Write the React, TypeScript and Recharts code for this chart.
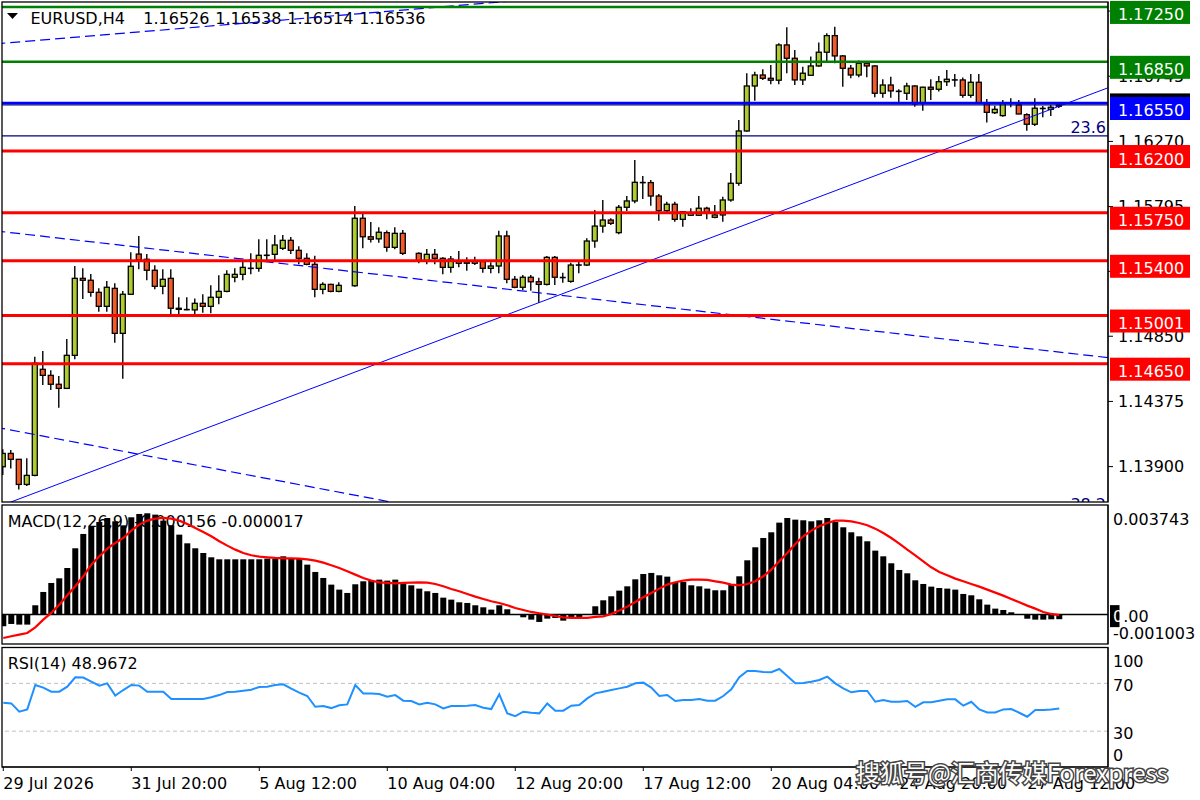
import React from "react";
import { Bar, ComposedChart, Line, ReferenceLine, XAxis, YAxis } from "recharts";

const FONT = "'DejaVu Sans', Verdana, sans-serif";
const BULL = "#AECC30";
const BEAR = "#F25A26";

// H4 bars, 29 Jul 04:00 .. 28 Aug 00:00 (null = no bar drawn)
const opens = [
  1.13899, 1.13996, 1.13953, 1.1377, 1.13836, 1.14609, 1.14565, 1.145, 1.1447, 1.14711,
  1.15272, 1.15258, 1.1517, 1.15068, 1.15199, 1.14871, 1.15156, 1.15449, 1.15411, 1.15331,
  1.15214, 1.15272, 1.15054, 1.15044, 1.15042, 1.1509, 1.15068, 1.15134, 1.15177, 1.1528,
  1.15301, 1.15345, 1.15345, 1.1544, 1.15447, 1.15491, 1.15549, 1.15476, 1.15418, 1.15374,
  1.15192, 1.15228, 1.15177, null, 1.15218, 1.1571, 1.15575, 1.1556, 1.15605, 1.15498,
  1.156, null, 1.15454, 1.15401, 1.15447, 1.15418, 1.15352, 1.154, 1.15382, 1.15382,
  1.15395, 1.15345, 1.15362, 1.15581, 1.15265, 1.15207, 1.1528, 1.15247, 1.15228, 1.15425,
  1.15278, 1.1525, 1.15369, 1.15369, 1.15544, 1.15653, 1.15697, 1.15605, 1.1579, 1.15836,
  1.1597, 1.1597, 1.15872, 1.15765, 1.15812, 1.15702, 1.15732, 1.15732, 1.15783, 1.15717,
  1.15734, 1.15843, 1.15965, 1.16346, 1.16674, 1.16754, 1.1673, 1.16716, 1.16973, 1.16876,
  1.16718, 1.16752, 1.1682, 1.1692, 1.17041, 1.16893, 1.16803, 1.16754, 1.1684, 1.1682,
  1.16621, 1.16681, 1.16635, 1.16621, 1.16674, 1.16548, 1.16665, 1.1665, 1.16705, 1.16718,
  1.16718, 1.16606, 1.16701, 1.16548, 1.16479, 1.16458, 1.1655, 1.16536, 1.16465, 1.16395,
  1.1651, 1.16504, 1.16526,
];
const highs = [
  1.14026, 1.14021, 1.13955, 1.1396, 1.14701, 1.14742, 1.14602, 1.1456, 1.1483, 1.15362,
  1.15345, 1.15304, 1.15199, 1.15253, 1.15236, 1.1518, 1.15462, 1.15581, 1.15449, 1.15367,
  1.15338, 1.15338, 1.15134, 1.15134, 1.15126, 1.15156, 1.15221, 1.15294, 1.15331, 1.15345,
  1.15396, 1.15454, 1.15557, 1.15557, 1.15588, 1.15588, 1.15573, 1.15506, 1.15454, 1.15437,
  1.15243, 1.15232, 1.15243, null, 1.15799, 1.15746, 1.15683, 1.15644, 1.1562, 1.15644,
  1.15624, null, 1.15462, 1.15486, 1.15486, 1.15425, 1.15435, 1.15471, 1.15425, 1.1543,
  1.15401, 1.15389, 1.15619, 1.15619, 1.15289, 1.15296, 1.15296, 1.15277, 1.15435, 1.15435,
  1.15313, 1.15386, 1.15401, 1.15564, 1.1577, 1.15843, 1.1571, 1.15807, 1.15872, 1.16135,
  1.16018, 1.15989, 1.15887, 1.15831, 1.15831, 1.15763, 1.15783, 1.15872, 1.15794, 1.15807,
  1.15867, 1.1604, 1.16426, 1.16767, 1.16778, 1.16796, 1.16827, 1.16985, 1.17102, 1.16937,
  1.16815, 1.16888, 1.1699, 1.17058, 1.17106, 1.169, 1.16827, 1.16859, 1.16851, 1.16825,
  1.16723, 1.16742, 1.1665, 1.16698, 1.1668, 1.16668, 1.16723, 1.16747, 1.16791, 1.16762,
  1.16735, 1.16762, 1.16762, 1.16579, 1.1653, 1.16572, 1.16584, 1.16572, 1.16475, 1.16584,
  1.16528, 1.16536, 1.16538,
];
const lows = [
  1.13838, 1.13887, 1.13734, 1.13758, 1.1383, 1.14494, 1.14458, 1.14329, 1.14465, 1.14682,
  1.15121, 1.15138, 1.15029, 1.15029, 1.14803, 1.1454, 1.1515, 1.15338, 1.15258, 1.15192,
  1.15156, 1.15005, 1.15005, 1.1504, 1.15005, 1.15021, 1.15017, 1.15083, 1.1517, 1.15243,
  1.15258, 1.15301, 1.1532, 1.15406, 1.15406, 1.15479, 1.15449, 1.15374, 1.15367, 1.15134,
  1.15156, 1.1517, 1.1517, null, 1.15211, 1.15491, 1.15533, 1.15532, 1.15466, 1.15484,
  1.15442, null, 1.15382, 1.15374, 1.15374, 1.15301, 1.15313, 1.15352, 1.15327, 1.1537,
  1.15313, 1.15309, 1.15309, 1.15236, 1.15199, 1.15187, 1.15182, 1.15094, 1.1522, 1.15223,
  1.1524, 1.1524, 1.15309, 1.15362, 1.15495, 1.15605, 1.15661, 1.15593, 1.15763, 1.15819,
  1.1585, 1.15801, 1.15692, 1.15746, 1.15685, 1.15648, 1.15726, 1.15726, 1.15702, 1.1571,
  1.15685, 1.1583, 1.15947, 1.1634, 1.16567, 1.16718, 1.16686, 1.16686, 1.16767, 1.16681,
  1.16681, 1.16752, 1.16815, 1.16851, 1.1684, 1.16669, 1.1673, 1.16737, 1.16737, 1.16592,
  1.16589, 1.16589, 1.16548, 1.16572, 1.16523, 1.16494, 1.16572, 1.16633, 1.16674, 1.16669,
  1.16589, 1.16589, 1.16545, 1.16407, 1.1647, 1.1645, 1.16519, 1.16468, 1.16348, 1.16382,
  1.16446, 1.16455, 1.16514,
];
const closes = [
  1.13996, 1.13953, 1.1377, 1.13836, 1.14653, 1.14565, 1.145, 1.1447, 1.14711, 1.15272,
  1.15258, 1.1517, 1.15068, 1.15207, 1.14871, 1.15156, 1.1536, 1.15406, 1.15331, 1.15214,
  1.15265, 1.15054, 1.15046, 1.15044, 1.1509, 1.15068, 1.15134, 1.15177, 1.15301, 1.15301,
  1.15352, 1.15345, 1.1544, 1.1544, 1.15515, 1.15549, 1.15476, 1.15418, 1.15374, 1.15192,
  1.15228, 1.15177, 1.15221, null, 1.1571, 1.15575, 1.15557, 1.15608, 1.15498, 1.156,
  1.15454, null, 1.15401, 1.15447, 1.15418, 1.15352, 1.15413, 1.15382, 1.15393, 1.15395,
  1.15345, 1.15362, 1.15581, 1.15265, 1.15207, 1.1528, 1.15247, 1.15228, 1.15425, 1.1528,
  1.15278, 1.15369, 1.15369, 1.15544, 1.15653, 1.15697, 1.15673, 1.1579, 1.15836, 1.15972,
  1.1597, 1.15872, 1.15765, 1.15812, 1.15702, 1.15758, 1.15746, 1.15783, 1.15746, 1.15734,
  1.15843, 1.15965, 1.16346, 1.16674, 1.16754, 1.1673, 1.16716, 1.16973, 1.16876, 1.16718,
  1.16767, 1.1682, 1.1692, 1.17041, 1.16893, 1.16803, 1.16754, 1.1684, 1.1682, 1.16621,
  1.16681, 1.16638, 1.16635, 1.16674, 1.16543, 1.16665, 1.1665, 1.16705, 1.16723, 1.16718,
  1.16606, 1.16701, 1.16548, 1.16482, 1.16504, 1.16552, 1.1655, 1.1647, 1.16395, 1.16512,
  1.1651, 1.16519, 1.16536,
];

const macdMain = [
  -0.000398, -0.000319, -0.000341, -0.000341, 0.000319, 0.000774, 0.001081, 0.00124, 0.001593, 0.002265,
  0.002754, 0.003004, 0.003164, 0.0033, 0.003186, 0.00305, 0.003323, 0.003437, 0.00346, 0.003414,
  0.003209, 0.00305, 0.002731, 0.002435, 0.002265, 0.002105, 0.001957, 0.001889, 0.001889, 0.001889,
  0.001889, 0.001889, 0.001889, 0.001912, 0.001912, 0.001991, 0.001912, 0.001912, 0.001707, 0.001457,
  0.001252, 0.001024, 0.000854, 0.00074, 0.001036, 0.001138, 0.001161, 0.001195, 0.001161, 0.001195,
  0.001081, 0.001001, 0.000888, 0.000797, 0.00074, 0.00058, 0.000512, 0.000421, 0.000398, 0.000319,
  0.00025, 0.000171, 0.000319, 0.000182, 0.00002, -0.000091, -0.000171, -0.00025, -0.000137, -0.000114,
  -0.000205, -0.000114, -0.000091, 0.000023, 0.000285, 0.000489, 0.000626, 0.000819, 0.000967, 0.001206,
  0.001388, 0.001423, 0.001343, 0.001297, 0.001115, 0.001115, 0.001001, 0.000967, 0.000888, 0.000831,
  0.000831, 0.001024, 0.001309, 0.001855, 0.002299, 0.002617, 0.002811, 0.003141, 0.0033, 0.003243,
  0.003221, 0.003186, 0.003221, 0.0033, 0.003164, 0.002982, 0.002811, 0.002674, 0.002504, 0.002185,
  0.001991, 0.001753, 0.001525, 0.001411, 0.001172, 0.001047, 0.000956, 0.00091, 0.000888, 0.000854,
  0.000706, 0.00066, 0.000523, 0.000341, 0.000205, 0.000159, 0.00008, 0.00001, -0.00014, -0.000171,
  -0.000171, -0.00016, -0.000156,
];
const macdSignal = [
  -0.000797, -0.00074, -0.000683, -0.000626, -0.000432, -0.000171, 0.000057, 0.000341, 0.00066, 0.000967,
  0.001309, 0.001707, 0.001992, 0.002253, 0.002447, 0.002617, 0.002868, 0.003073, 0.003209, 0.003277,
  0.0033, 0.003277, 0.003209, 0.003095, 0.002959, 0.002822, 0.002674, 0.002504, 0.002356, 0.002219,
  0.002105, 0.002026, 0.00198, 0.001957, 0.001935, 0.001923, 0.001923, 0.001912, 0.001889, 0.001844,
  0.001775, 0.001684, 0.001593, 0.001479, 0.001366, 0.001252, 0.001161, 0.001104, 0.001081, 0.00107,
  0.001081, 0.001092, 0.001104, 0.001092, 0.001047, 0.000967, 0.000876, 0.000797, 0.000706, 0.000615,
  0.000535, 0.000455, 0.000398, 0.000319, 0.000228, 0.000159, 0.000091, 0.000046, 0.0, -0.000046,
  -0.000091, -0.000114, -0.000114, -0.000114, -0.00008, -0.000057, 0.000023, 0.000137, 0.000273, 0.000432,
  0.000592, 0.00074, 0.000888, 0.001024, 0.001104, 0.001161, 0.001195, 0.001195, 0.001184, 0.001138,
  0.001092, 0.001024, 0.001001, 0.001047, 0.001138, 0.001309, 0.001536, 0.001821, 0.002105, 0.002413,
  0.002674, 0.002868, 0.003016, 0.00313, 0.003209, 0.003209, 0.003186, 0.00313, 0.00305, 0.002936,
  0.002788, 0.002617, 0.002424, 0.002219, 0.002026, 0.001821, 0.001616, 0.001457, 0.001343, 0.001229,
  0.001138, 0.001047, 0.000956, 0.000854, 0.000751, 0.000649, 0.000535, 0.000421, 0.000307, 0.000205,
  0.000091, 0.000023, -0.000017,
];
const rsiValues = [
  53.8, 53.2, 46.3, 48.2, 68.6, 66.4, 63.0, 63.0, 67.2, 75.1,
  74.8, 71.4, 68.1, 70.0, 59.7, 64.4, 68.6, 68.1, 63.0, 63.0,
  63.0, 56.9, 56.9, 56.9, 56.9, 56.9, 58.3, 60.2, 62.8, 63.0,
  63.9, 64.7, 67.0, 67.2, 68.6, 69.2, 65.5, 62.2, 59.4, 50.4,
  51.0, 49.3, 51.6, 52.4, 68.6, 61.6, 61.6, 61.1, 58.8, 60.2,
  55.5, 55.2, 52.4, 53.8, 52.4, 49.0, 51.0, 51.0, 51.3, 51.8,
  49.6, 48.5, 60.8, 44.9, 42.6, 46.3, 45.4, 44.9, 53.2, 47.1,
  47.1, 51.3, 51.8, 57.4, 61.6, 63.0, 64.4, 65.8, 67.2, 70.0,
  70.6, 66.4, 59.4, 60.2, 55.2, 56.0, 56.0, 56.9, 55.5, 55.5,
  59.4, 65.0, 75.1, 80.4, 80.4, 79.5, 79.3, 82.0, 76.2, 70.0,
  70.3, 71.4, 72.8, 75.6, 70.0, 65.8, 62.5, 63.6, 63.6, 54.6,
  56.0, 54.6, 54.6, 55.2, 50.4, 54.1, 54.1, 55.5, 56.6, 56.6,
  51.3, 54.6, 48.2, 45.7, 45.7, 48.2, 48.5, 45.4, 42.1, 47.7,
  47.7, 48.2, 48.9672,
];

const timeTickIndex = [0, 16, 32, 48, 64, 80, 96, 112, 128];
const timeLabels = [
  "29 Jul 2026", "31 Jul 20:00", "5 Aug 12:00", "10 Aug 04:00", "12 Aug 20:00",
  "17 Aug 12:00", "20 Aug 04:00", "24 Aug 20:00", "27 Aug 12:00",
];
const priceTicks = [1.139, 1.14375, 1.1485, 1.15323, 1.15795, 1.1627, 1.16745, 1.1722];
const macdTicks = [0.003743, 0, -0.001003];
const rsiTicks = [100, 70, 30, 0];
const rsiLevels = [70, 30];

const resistanceLevels = [1.1725, 1.1685];
const pivotLevel = 1.1655;
const supportLevels = [1.162, 1.1575, 1.154, 1.15001, 1.1465];
const bidPrice = 1.16536;
const fib236 = 1.1631;

// trend lines, anchored on bar index and price
const upTrend = [{ i: 0, p: 1.13621 }, { i: 138.1, p: 1.16661 }];
const upperChannel = [{ i: -1, p: 1.16981 }, { i: 70, p: 1.17324 }];
const middleChannel = [{ i: -1, p: 1.15618 }, { i: 138.1, p: 1.14694 }];
const lowerChannel = [{ i: -1, p: 1.14188 }, { i: 50, p: 1.13625 }];

const X_DOMAIN: [number, number] = [-0.16, 138.09];

const rows = opens.map((o, i) => ({
  i,
  range: o == null ? null : [lows[i], highs[i]],
  open: o,
  high: highs[i],
  low: lows[i],
  close: closes[i],
  macd: macdMain[i],
  signal: macdSignal[i],
  rsi: rsiValues[i],
}));

const seg = (pts: { i: number; p: number }[]) => pts.map((pt) => ({ x: pt.i, y: pt.p }));

function Candle(props: any) {
  const { x, y, width, height, payload } = props;
  if (!payload || payload.open == null || !isFinite(y)) return null;
  const { open, close, high, low } = payload;
  const cx = x + width / 2;
  const yTop = Math.min(y, y + height);
  const h = Math.abs(height);
  const span = high - low;
  const toY = (v: number) => (span > 0 ? yTop + ((high - v) / span) * h : yTop);
  const bw = 5;
  const wick = <line x1={cx} x2={cx} y1={yTop} y2={yTop + h} stroke="#000" strokeWidth={1.4} />;
  if (open === close) {
    const yy = toY(open);
    return (
      <g>
        {wick}
        <line x1={cx - bw / 2 - 0.5} x2={cx + bw / 2 + 0.5} y1={yy} y2={yy} stroke="#000" strokeWidth={1.6} />
      </g>
    );
  }
  const bTop = toY(Math.max(open, close));
  const bBot = toY(Math.min(open, close));
  return (
    <g>
      {wick}
      <rect
        x={cx - bw / 2}
        y={bTop}
        width={bw}
        height={Math.max(bBot - bTop, 1)}
        fill={close > open ? BULL : BEAR}
        stroke="#000"
        strokeWidth={1.3}
      />
    </g>
  );
}

// price-scale label drawn beside the axis (kept under the level tags)
function AxisLabel(props: any) {
  const { viewBox, text } = props;
  if (!viewBox) return null;
  const x = viewBox.x + viewBox.width;
  const y = viewBox.y;
  return (
    <g>
      <line x1={x} x2={x + 5} y1={y} y2={y} stroke="#000" strokeWidth={1} />
      <text x={x + 10} y={y} dy="0.355em" fill="#000" fontFamily={FONT} fontSize={16}>
        {text}
      </text>
    </g>
  );
}

function PriceTag(props: any) {
  const { viewBox, fill, text, centered } = props;
  if (!viewBox) return null;
  const x = viewBox.x + viewBox.width + 2;
  const top = centered ? viewBox.y - 11.5 : viewBox.y - 6;
  return (
    <g>
      <rect x={x} y={top} width={80} height={23} fill={fill} />
      <text x={x + 8} y={top + 19.5} fill="#fff" fontFamily={FONT} fontSize={16}>
        {text}
      </text>
    </g>
  );
}

function FibTag(props: any) {
  const { viewBox, text } = props;
  if (!viewBox) return null;
  return (
    <text x={viewBox.x + viewBox.width - 2} y={viewBox.y - 3.3} textAnchor="end" fill="#000080" fontFamily={FONT} fontSize={16}>
      {text}
    </text>
  );
}

function MacdTick(props: any) {
  const { x, y, payload } = props;
  const v = payload.value;
  if (v === 0) {
    return (
      <g>
        <rect x={x - 3} y={y - 9.5} width={9.5} height={22} fill="#000" />
        <text x={x} y={y + 7.5} fontFamily={FONT} fontSize={16}>
          <tspan fill="#fff">0</tspan>
          <tspan fill="#000">.00</tspan>
        </text>
      </g>
    );
  }
  return (
    <text x={x} y={v > 0 ? y + 19.8 : y - 5.5} fontFamily={FONT} fontSize={16} fill="#000">
      {v.toFixed(6)}
    </text>
  );
}

function RsiTick(props: any) {
  const { x, y, payload } = props;
  const v = payload.value;
  const off = v === 100 ? 19 : v === 0 ? -6 : 7.5;
  return (
    <text x={x} y={y + off} fontFamily={FONT} fontSize={16} fill="#000">
      {v}
    </text>
  );
}

function TimeTick(props: any) {
  const { x, y, payload } = props;
  const k = timeTickIndex.indexOf(payload.value);
  return (
    <text x={x} y={y + 16} fontFamily={FONT} fontSize={16} fill="#000">
      {timeLabels[k]}
    </text>
  );
}

export default function App() {
  const last = opens.length - 1;
  const ohlc = [opens[last], highs[last], lows[last], closes[last]].map((v) => (v as number).toFixed(5));
  const layer = (top: number, z: number): React.CSSProperties => ({ position: "absolute", left: 0, top, zIndex: z });

  return (
    <div style={{ position: "absolute", left: 0, top: 0, width: 1200, height: 800, background: "#fff", overflow: "hidden" }}>
      {/* texts drawn under the series */}
      <svg width={1200} height={800} style={{ position: "absolute", left: 0, top: 0, zIndex: 0 }}>
        <polygon points="7,13 18,13 12.5,19" fill="#000" />
        <text x={30.5} y={24} fontFamily={FONT} fontSize={16} fill="#000">EURUSD,H4</text>
        {ohlc.map((t, k) => (
          <text key={k} x={143.3 + k * 72} y={24} fontFamily={FONT} fontSize={16} fill="#000">{t}</text>
        ))}
        <text x={7.7} y={526.7} fontFamily={FONT} fontSize={16} fill="#000">
          {`MACD(12,26,9) ${macdMain[last].toFixed(6)} ${macdSignal[last].toFixed(6)}`}
        </text>
        <text x={7.7} y={669} fontFamily={FONT} fontSize={16} fill="#000">
          {`RSI(14) ${rsiValues[last].toFixed(4)}`}
        </text>
      </svg>

      <div style={layer(0, 1)}>
        <ComposedChart width={1200} height={504} data={rows} margin={{ top: 2, right: 0, bottom: 2, left: 2 }}>
          <XAxis type="number" dataKey="i" domain={X_DOMAIN} allowDataOverflow hide />
          <YAxis
            orientation="right"
            width={92}
            domain={[1.13642, 1.17286]}
            allowDataOverflow
            tick={false}
            axisLine={{ stroke: "#000" }}
          />
          <Bar dataKey="range" barSize={5} shape={(p: any) => <Candle {...p} />} isAnimationActive={false} />
          {priceTicks.map((v) => (
            <ReferenceLine key={`t${v}`} y={v} stroke="none" ifOverflow="visible" label={<AxisLabel text={v.toFixed(5)} />} />
          ))}
          <ReferenceLine segment={seg(upperChannel)} stroke="#0000FF" strokeWidth={1.2} strokeDasharray="10 5" ifOverflow="hidden" />
          <ReferenceLine segment={seg(middleChannel)} stroke="#0000FF" strokeWidth={1.2} strokeDasharray="10 5" ifOverflow="hidden" />
          <ReferenceLine segment={seg(lowerChannel)} stroke="#0000FF" strokeWidth={1.2} strokeDasharray="10 5" ifOverflow="hidden" />
          <ReferenceLine segment={seg(upTrend)} stroke="#0000FF" strokeWidth={1} ifOverflow="hidden" />
          <ReferenceLine y={fib236} stroke="#000080" strokeWidth={1.2} label={<FibTag text="23.6" />} />
          <ReferenceLine
            y={bidPrice}
            stroke="#000080"
            strokeWidth={1.2}
            label={<PriceTag fill="#000" text={bidPrice.toFixed(5)} centered />}
          />
          <ReferenceLine y={pivotLevel} stroke="#0000FF" strokeWidth={2.5} label={<PriceTag fill="#0000FF" text={pivotLevel.toFixed(5)} />} />
          {resistanceLevels.map((v) => (
            <ReferenceLine key={v} y={v} stroke="#008000" strokeWidth={2.5} label={<PriceTag fill="#008000" text={v.toFixed(5)} />} />
          ))}
          {supportLevels.map((v) => (
            <ReferenceLine key={v} y={v} stroke="#FF0000" strokeWidth={3} label={<PriceTag fill="#FF0000" text={v.toFixed(5)} />} />
          ))}
        </ComposedChart>
      </div>

      <div style={layer(504, 1)}>
        <ComposedChart width={1200} height={140} data={rows} margin={{ top: 1, right: 0, bottom: 0, left: 2 }}>
          <XAxis type="number" dataKey="i" domain={X_DOMAIN} allowDataOverflow hide />
          <YAxis
            orientation="right"
            width={92}
            domain={[-0.001003, 0.003743]}
            allowDataOverflow
            ticks={macdTicks}
            interval={0}
            tickSize={0}
            tickMargin={5}
            tick={(p: any) => <MacdTick {...p} />}
            axisLine={{ stroke: "#000" }}
          />
          <Bar dataKey="macd" barSize={6} fill="#000" isAnimationActive={false} />
          <ReferenceLine y={0} stroke="#000" strokeWidth={1.5} />
          <Line dataKey="signal" stroke="#FF0000" strokeWidth={2.2} dot={false} type="linear" isAnimationActive={false} />
        </ComposedChart>
      </div>

      <div style={layer(646, 1)}>
        <ComposedChart width={1200} height={154} data={rows} margin={{ top: 1.5, right: 0, bottom: 0, left: 2 }}>
          <XAxis
            type="number"
            dataKey="i"
            domain={X_DOMAIN}
            allowDataOverflow
            ticks={timeTickIndex}
            interval={0}
            height={33}
            tickSize={4}
            tickMargin={2}
            tick={(p: any) => <TimeTick {...p} />}
            tickLine={{ stroke: "#000" }}
            axisLine={{ stroke: "#000" }}
          />
          <YAxis
            orientation="right"
            width={92}
            domain={[0, 100]}
            allowDataOverflow
            ticks={rsiTicks}
            interval={0}
            tickSize={0}
            tickMargin={5}
            tick={(p: any) => <RsiTick {...p} />}
            axisLine={{ stroke: "#000" }}
          />
          {rsiLevels.map((v) => (
            <ReferenceLine key={v} y={v} stroke="#C0C0C0" strokeWidth={1} strokeDasharray="4 3" />
          ))}
          <Line dataKey="rsi" stroke="#1E90FF" strokeWidth={2} dot={false} type="linear" isAnimationActive={false} />
        </ComposedChart>
      </div>

      {/* frames and watermark */}
      <svg width={1200} height={800} style={{ position: "absolute", left: 0, top: 0, zIndex: 2, pointerEvents: "none" }}>
        <defs>
          <clipPath id="mainFrame">
            <rect x={2} y={2} width={1106} height={500} />
          </clipPath>
        </defs>
        <text x={1106} y={509.7} textAnchor="end" fill="#000080" fontFamily={FONT} fontSize={16} clipPath="url(#mainFrame)">
          38.2
        </text>
        <rect x={2} y={2} width={1106} height={500} fill="none" stroke="#000" strokeWidth={1.3} />
        <rect x={2} y={505} width={1106} height={139} fill="none" stroke="#000" strokeWidth={1.3} />
        <rect x={2} y={647.5} width={1106} height={119.5} fill="none" stroke="#000" strokeWidth={1.3} />
        <text
          x={856}
          y={782}
          fontFamily="'Noto Sans CJK SC', sans-serif"
          fontSize={24}
          fill="#fff"
          stroke="#444"
          strokeWidth={3}
          style={{ paintOrder: "stroke" }}
        >
          搜狐号@汇商传媒Forexpress
        </text>
      </svg>
    </div>
  );
}
